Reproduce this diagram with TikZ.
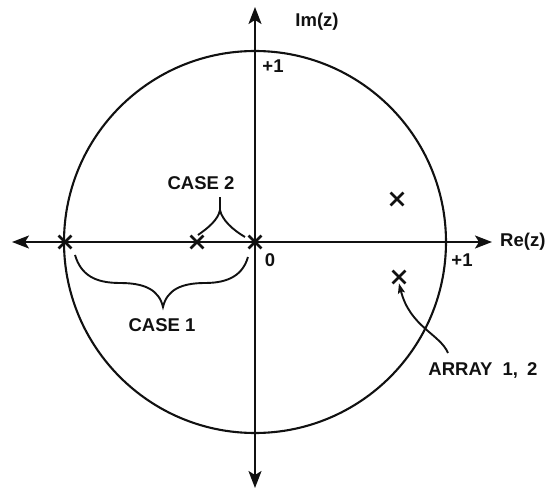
\documentclass[tikz,border=0pt]{standalone}
\usepackage{fontspec}
\setmainfont{Liberation Sans}
\usetikzlibrary{arrows.meta,shapes.misc,positioning}
\definecolor{tinta}{HTML}{111111}
\tikzset{
  polo/.style={cross out,draw=tinta,line width=2.8pt,minimum size=10pt,inner sep=0pt},
  rotulo/.style={font=\bfseries\fontsize{18.5}{21}\selectfont,text=tinta,inner sep=0pt},
  eje/.style={line width=2.1pt,draw=tinta,{Stealth[length=17pt,width=13pt,inset=4pt]}-{Stealth[length=17pt,width=13pt,inset=4pt]}},
  llave/.style={line width=1.9pt,draw=tinta}
}
\begin{document}
\begin{tikzpicture}[x=1pt,y=1pt]
  \useasboundingbox (-255,-248) rectangle (297,242);
  % circulo unidad
  \draw[tinta,line width=2.1pt] (0,0) circle (191);
  % ejes
  \coordinate (izq) at (-243,0);
  \coordinate (der) at (237,0);
  \coordinate (arr) at (0,235);
  \coordinate (aba) at (0,-246);
  \draw[eje] (izq) -- (der);
  \draw[eje] (aba) -- (arr);
  \node[rotulo,anchor=west] (re) at (245,0) {Re(z)};
  \node[rotulo] (im) at (62,220) {Im(z)};
  \node[rotulo] (uno) at (207,-18) {+1};
  \node[rotulo] (unoi) at (18,176) {+1};
  \node[rotulo] (cero) at (15,-18) {0};
  % polos
  \node[polo] (p1) at (-190,0) {};
  \node[polo] (p2) at (-58,0) {};
  \node[polo] (p3) at (0,0) {};
  \node[polo] (p4) at (142,43) {};
  \node[polo] (p5) at (144,-35) {};
  % llaves
  \node[rotulo] (caso2) at (-54,59) {CASE 2};
  \coordinate (pico2) at (-35,32);
  \coordinate (tope2) at (-35,45);
  \draw[llave] (-57,7) .. controls (-47,14) and (-37,22) .. (pico2)
    .. controls (-33,22) and (-22,12) .. (-10,5);
  \draw[llave] (pico2) -- (tope2);
  \node[rotulo] (caso1) at (-93,-83) {CASE 1};
  \draw[llave] (-180,-13) .. controls (-174,-33) and (-160,-41) .. (-135,-41)
    .. controls (-110,-41) and (-96,-48) .. (-92,-65)
    .. controls (-88,-48) and (-74,-41) .. (-50,-41)
    .. controls (-25,-41) and (-12,-32) .. (-7,-15);
  % arreglo
  \node[rotulo] (arreglo) at (228,-128) {ARRAY\hspace{5pt} 1,\hspace{4pt} 2};
  \coordinate (ini) at (193,-111);
  \draw[llave,-{Stealth[length=10pt,width=7pt,inset=2pt]}] (ini) .. controls (185,-92) and (155,-85) .. (p5.south);
\end{tikzpicture}
\end{document}
